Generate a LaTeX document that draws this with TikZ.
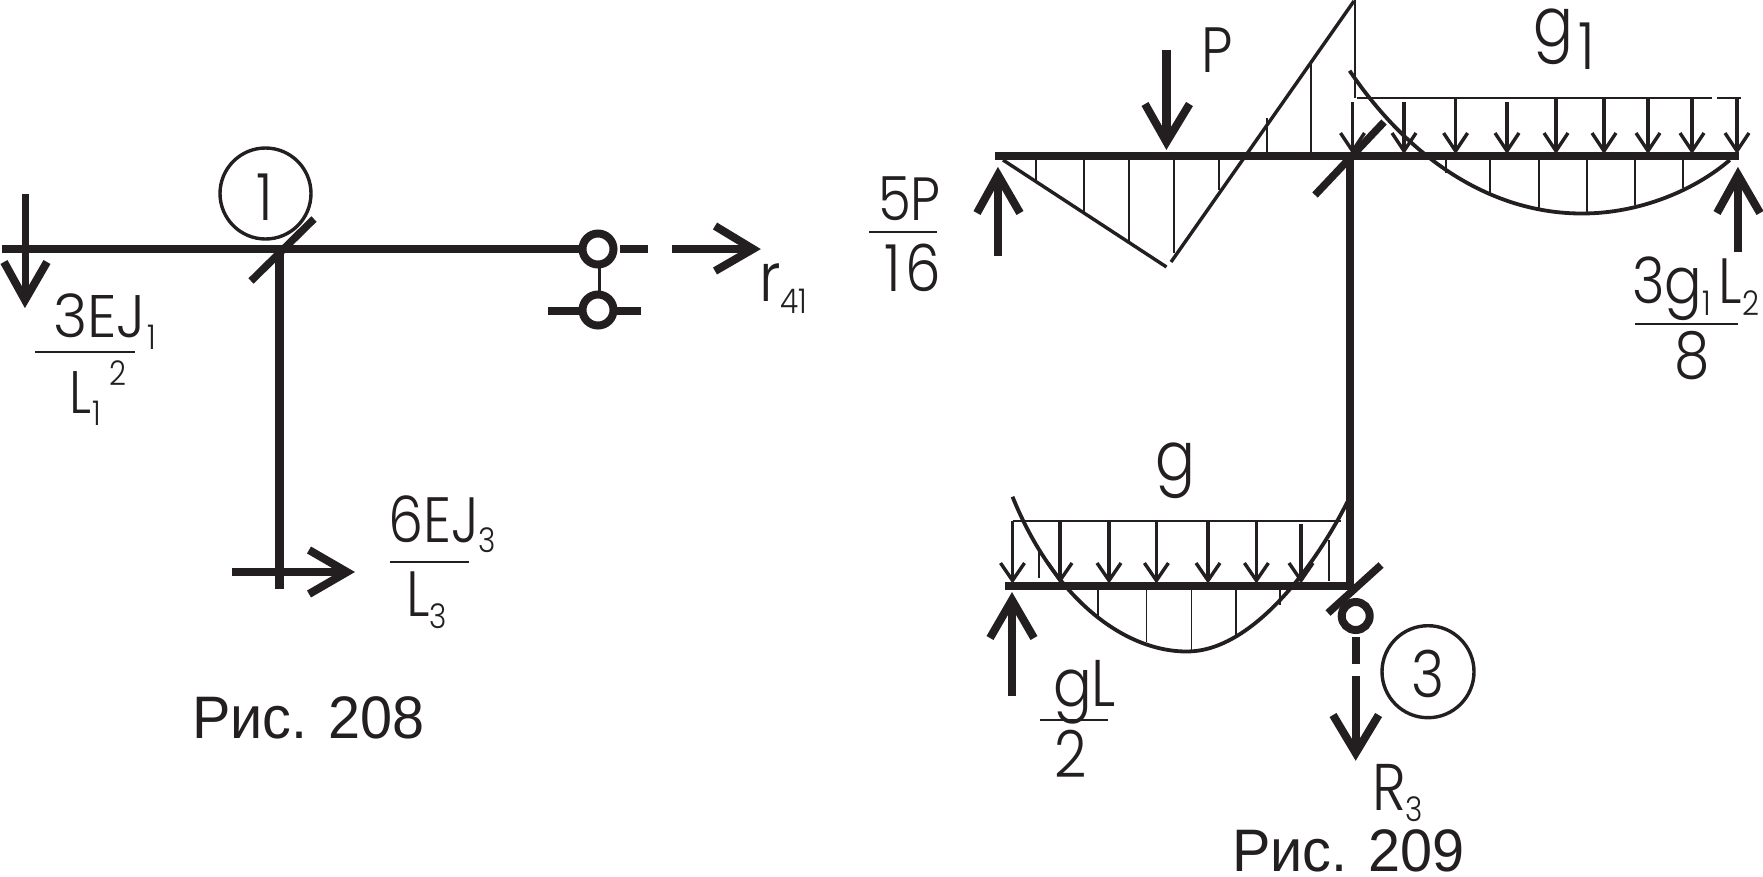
\documentclass[tikz,border=0pt]{standalone}
\usepackage{fontspec}
\setmainfont[FakeStretch=0.96]{Liberation Sans}
\newfontfamily\geo[FakeStretch=0.87]{Poppins Light}
\definecolor{ink}{HTML}{231F20}
\newcommand{\Fs}[1]{\fontsize{#1}{#1}\selectfont}
\newcommand{\Low}[2]{\raisebox{-#1pt}{\Fs{34}#2}}
\newcommand{\High}[2]{\raisebox{#1pt}{\Fs{34}#2}}
\tikzset{
  every node/.style={inner sep=0pt,outer sep=0pt,text=ink},
  every path/.style={color=ink},
  txt/.style={anchor=base west,font=\geo},
  ctxt/.style={anchor=base,font=\geo},
  figcap/.style={anchor=base west,font=\Fs{60}},
  beam/.style={line width=8.5pt},
  slash/.style={line width=7.5pt},
  arrowhead/.style={line width=8pt,miter limit=10},
  ring/.style={line width=8pt,fill=white},
  fine/.style={line width=1.8pt},
  curve/.style={line width=3.4pt},
  loadarrow/.style={line width=3.4pt,miter limit=10},
  fracline/.style={line width=1.8pt},
  circ/.style={line width=3.4pt}
}
\begin{document}
\begin{tikzpicture}[x=1pt,y=-1pt]
\useasboundingbox (0,0) rectangle (1763,876);
% ---------- Fig 208
\draw[beam] (2,249) -- (581,249);
\draw[beam] (620,249) -- (648,249);
\draw[beam] (672,249) -- (750,249);
\draw[arrowhead] (715,226) -- (753,249) -- (715,271);
\draw[beam] (279.5,249) -- (279.5,589);
\draw[slash] (251,281) -- (314,219);
\draw[circ] (265.5,193.5) circle (45.5);
\node[ctxt,font=\geo\Fs{65}] (n1) at (265,220) {1};
\draw[line width=7pt] (25,194) -- (25,295);
\draw[arrowhead] (4,262) -- (25,300) -- (47,262);
\draw[line width=3pt] (599,265) -- (599,295);
\draw[ring] (598,249) circle (15.5);
\draw[line width=7.5pt] (548,311) -- (583,311);
\draw[line width=7.5pt] (613,311) -- (641,311);
\draw[ring] (598,310) circle (15.5);
\draw[beam] (232,572) -- (344,572);
\draw[arrowhead] (309,550) -- (347,572) -- (309,594);
\node[txt,font=\geo\Fs{60}] (a1) at (53,337) {\scalebox{1.12}[1]{3EJ}\kern 2pt\Low{12}{1}};
\draw[fracline] (35,352) -- (135,352);
\node[txt,font=\geo\Fs{60}] (a2) at (69,413) {L\kern 2pt\Low{12}{1}\kern 8pt\High{28}{2}};
\node[txt,font=\geo\Fs{68}] (a3) at (759,301) {r\Low{12}{41}};
\node[txt,font=\geo\Fs{64}] (a4) at (388,542) {6EJ\Low{10}{3}};
\draw[fracline] (390,562) -- (469,562);
\node[txt,font=\geo\Fs{64}] (a5) at (406,616) {L\Low{12}{3}};
\node[figcap] (c1) at (192,738) {Рис. 208};
% ---------- Fig 209 top
\draw[beam] (995,156) -- (1738.5,156);
\draw[line width=8pt] (1349.5,152) -- (1349.5,590);
\draw[slash] (1315,195) -- (1384,122);
\draw[fine] (1355,0) -- (1355,98);
\draw[curve] (1003,160) -- (1166.5,267);
\draw[curve] (1171,262) -- (1354,1);
\foreach \x/\y in {1036/181.6,1084/213,1129/242.5,1174/253,1219/190}
  \draw[fine] (\x,160) -- (\x,\y);
\draw[fine] (1267,118) -- (1267,152);
\draw[fine] (1311,62) -- (1311,152);
\draw[fine] (1356.5,98) -- (1712,98);
\draw[fine] (1717,98) -- (1741,98);
\foreach \x/\t in {1352.5/102,1404/102,1455.6/98,1507/102,1556/98,1604/98,1648/98,1692/98,1737/98}{
  \draw[loadarrow] (\x,\t) -- (\x,148);
  \draw[loadarrow] (\x-12,133) -- (\x,151) -- (\x+12,133);
}
\draw[curve,line width=3.8pt] (1349.6,70.7) .. controls (1410,160) and (1492,213.5) .. (1582,213.5) .. controls (1640,213.5) and (1695,190) .. (1729.8,160);
\foreach \x/\y in {1445.8/173,1490.2/195,1538.6/208,1587/213,1634.8/205,1682.6/188}
  \draw[fine] (\x,160) -- (\x,\y);
\draw[beam] (998,256) -- (998,180);
\draw[arrowhead] (977,213) -- (998,175) -- (1020,213);
\draw[beam] (1738,252) -- (1738,180);
\draw[arrowhead] (1717,213) -- (1738,175) -- (1760,213);
\draw[beam] (1166.5,50) -- (1166.5,138);
\draw[arrowhead] (1145,104) -- (1166.5,142) -- (1189.5,104);
\node[txt,font=\geo\Fs{64}] (b1) at (1201,72) {P};
\node[txt,font=\geo\Fs{68}] (b2) at (1533,46) {g\kern 6pt\raisebox{-23pt}{\Fs{65}1}};
\node[txt,font=\geo\Fs{61}] (b3) at (878,220) {5P};
\draw[fracline] (869,232) -- (937,232);
\node[txt,font=\geo\Fs{65}] (b4) at (884,291) {1\kern 5pt 6};
\node[txt,font=\geo\Fs{64}] (b5) at (1632,303) {3g\Low{12}{1}\kern 8pt L\Low{12}{2}};
\draw[fracline] (1635,324) -- (1738,324);
\node[txt,font=\geo\Fs{65}] (b6) at (1674,378) {8};
% ---------- Fig 209 bottom
\draw[beam] (1005,586) -- (1349,586);
\draw[slash] (1328,613) -- (1381,565);
\draw[ring] (1355.7,616) circle (14);
\draw[line width=8pt] (1355.7,637) -- (1355.7,664);
\draw[line width=8pt] (1355.7,676) -- (1355.7,749);
\draw[arrowhead] (1333,715) -- (1355.7,753) -- (1378.6,715);
\draw[circ] (1428,671.7) circle (46);
\node[ctxt,font=\geo\Fs{65}] (d1) at (1428,697) {3};
\draw[fracline] (1012.5,520.7) -- (1341.4,520.7);
\foreach \x/\t in {1012.5/521,1060/521,1109/521,1156.4/521,1208/521,1256.4/521,1301/524}{
  \draw[loadarrow] (\x,\t) -- (\x,578);
  \draw[loadarrow] (\x-12,563) -- (\x,580.5) -- (\x+12,563);
}
\draw[curve,line width=3.8pt] (1012.5,496.7) .. controls (1052.5,595.7) and (1122,651.5) .. (1187,651.5) .. controls (1250,651.5) and (1312.5,570.7) .. (1347.5,501.7);
\foreach \x/\y in {1098/618,1146.4/642,1191.4/652,1236/638,1280/605}
  \draw[fine] (\x,590) -- (\x,\y);
\draw[fine] (1039,550) -- (1039,578);
\draw[fine] (1328.6,540) -- (1328.6,581);
\draw[beam] (1012,696) -- (1012,605);
\draw[arrowhead] (990,638) -- (1012,600) -- (1034,638);
\node[txt,font=\geo\Fs{68}] (d2) at (1155,480) {g};
\node[txt,font=\geo\Fs{66}] (d3) at (1053,706) {gL};
\draw[fracline] (1040,720) -- (1108,720);
\node[txt,font=\geo\Fs{65}] (d4) at (1054,777) {2};
\node[txt,font=\geo\Fs{66}] (d5) at (1372,810) {R\Low{11}{3}};
\node[figcap] (c2) at (1232,871) {Рис. 209};
\end{tikzpicture}
\end{document}
